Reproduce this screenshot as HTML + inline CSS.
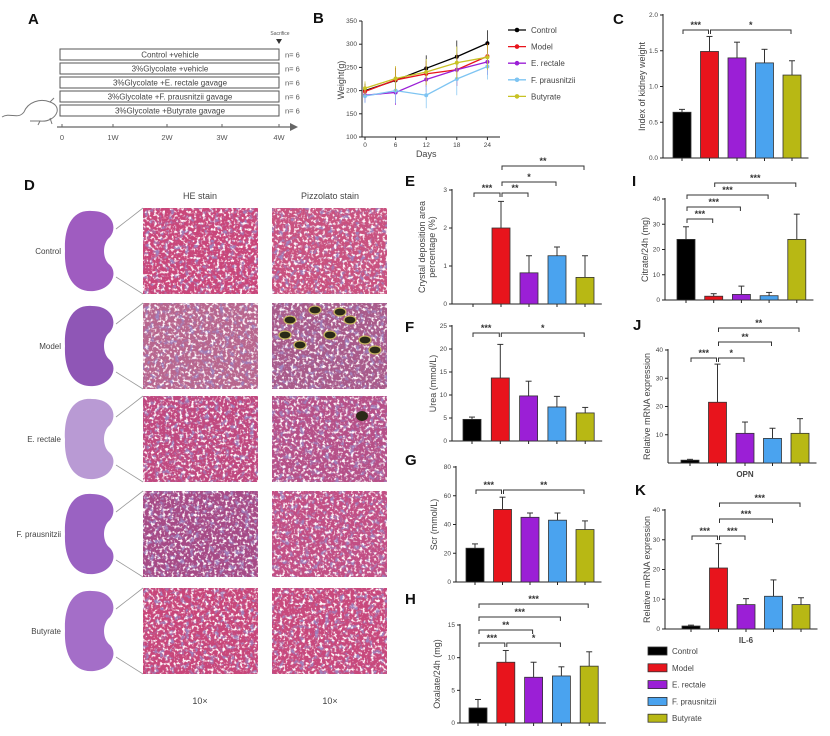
<!DOCTYPE html>
<html><head><meta charset="utf-8">
<style>
body{margin:0;background:#fff;}
svg{display:block;font-family:"Liberation Sans",sans-serif;}
.lbl{font-weight:bold;font-size:15px;fill:#111}
.tk{font-size:6.5px;fill:#444}
.ttl{font-size:9px;fill:#444}
</style></head><body>
<svg id="fig" width="830" height="736" viewBox="0 0 830 736">
<defs>
<filter id="spots" x="0" y="0" width="100%" height="100%">
<feTurbulence type="fractalNoise" baseFrequency="0.35" numOctaves="2" seed="3"/>
<feColorMatrix type="matrix" values="0 0 0 0 1  0 0 0 0 0.95  0 0 0 0 0.97  5 0 0 0 -2.6"/>
</filter>
<filter id="dark" x="0" y="0" width="100%" height="100%">
<feTurbulence type="fractalNoise" baseFrequency="0.2" numOctaves="2" seed="9"/>
<feColorMatrix type="matrix" values="0 0 0 0 0.35  0 0 0 0 0.22  0 0 0 0 0.5  5 0 0 0 -2.7"/>
</filter>
</defs>
<g id="panelA"></g>
<g id="panelB"></g>
<g id="panelD"></g>
<g id="bars"></g>
</svg>
<script>
// ---------- data ----------
const groups = ["Control","Model","E. rectale","F. prausnitzii","Butyrate"];
const groupColors = ["#000000","#e8141c","#9b1fd6","#4aa3ef","#b8b814"];
const weightDays = [0,6,12,18,24];
const weightTicks = [100,150,200,250,300,350];
const wControl = [200,222,248,273,302];
const wModel = [198,223,236,245,274];
const wRectale = [190,196,224,245,262];
const wPrausnitzii = [188,200,190,225,252];
const wButyrate = [205,226,240,260,272];
const wErr = [15,27,28,35,28];
const kidneyVals = [0.64,1.49,1.40,1.33,1.16];
const kidneyErr = [0.04,0.21,0.22,0.19,0.20];
const crystalVals = [0,2.0,0.82,1.27,0.7];
const crystalErr = [0,0.7,0.45,0.23,0.57];
const citrateVals = [24,1.5,2.2,1.7,24];
const citrateErr = [5,1,3.3,1.3,10];
const ureaVals = [4.7,13.7,9.8,7.4,6.1];
const ureaErr = [0.5,7.3,3.2,2.3,1.2];
const opnVals = [1,21.5,10.5,8.7,10.5];
const opnErr = [0.3,13.5,4,3.6,5.2];
const scrVals = [23.5,50.5,45,43,36.5];
const scrErr = [3,8.5,3,5,6];
const oxalateVals = [2.3,9.3,7,7.2,8.7];
const oxalateErr = [1.3,1.8,2.3,1.4,2.2];
const il6Vals = [1,20.5,8.2,11,8.2];
const il6Err = [0.3,8.2,2,5.5,2.3];

const NS="http://www.w3.org/2000/svg";
function el(tag,attrs,parent,text){const e=document.createElementNS(NS,tag);for(const k in attrs)e.setAttribute(k,attrs[k]);if(text!==undefined)e.textContent=text;parent.appendChild(e);return e;}

// ---------- Panel A ----------
const A=document.getElementById('panelA');
const aLbl=el('text',{x:28,y:24,class:'lbl'},A,'A');


const rows=["Control +vehicle","3%Glycolate +vehicle","3%Glycolate +E. rectale gavage","3%Glycolate +F. prausnitzii gavage","3%Glycolate +Butyrate gavage"];
const rowY=[49,63,77,91,105];
rows.forEach((r,i)=>{
 const b=el('rect',{x:60,y:rowY[i],width:219,height:11,fill:'#fff',stroke:'#555','stroke-width':1},A);
 
 
 el('text',{x:170,y:rowY[i]+8.5,'text-anchor':'middle','font-size':'8px',fill:'#444'},A,r);
 el('text',{x:285,y:rowY[i]+8.5,'font-size':'7.5px',fill:'#555'},A,'n= 6');
});
el('line',{x1:57,y1:127,x2:293,y2:127,stroke:'#666','stroke-width':1.2},A);
el('polygon',{points:'290,123 298,127 290,131',fill:'#666'},A);
[["0",62],["1W",113],["2W",167],["3W",222],["4W",279]].forEach(t=>{
 el('line',{x1:t[1],y1:124,x2:t[1],y2:127,stroke:'#666'},A);
 el('text',{x:t[1],y:140,'text-anchor':'middle','font-size':'7.5px',fill:'#555'},A,t[0]);
});
el('text',{x:280,y:35,'text-anchor':'middle','font-size':'5px',fill:'#555'},A,'Sacrifice');
el('polygon',{points:'276,39 282,39 279,44',fill:'#333'},A);
const mouse=el('path',{d:'M2,117 C10,112 18,120 24,112 C28,102 40,98 50,102 C56,104 58,108 57,112 C55,118 48,122 40,121 L30,121 M40,121 L38,125 M50,118 L52,124 M50,102 L54,98',fill:'none',stroke:'#777','stroke-width':1},A);



// ---------- Panel B ----------
const B=document.getElementById('panelB');
el('text',{x:313,y:23,class:'lbl'},B,'B');
const bx=d=>365+d*5.1, by=v=>137-(v-100)*0.464;
el('line',{x1:362,y1:by(350),x2:362,y2:by(100),stroke:'#222'},B);
el('line',{x1:362,y1:by(100),x2:500,y2:by(100),stroke:'#222'},B);
weightTicks.forEach(t=>{el('line',{x1:359,y1:by(t),x2:362,y2:by(t),stroke:'#222'},B);el('text',{x:357,y:by(t)+2,'text-anchor':'end',class:'tk'},B,t);});
weightDays.forEach(d=>{el('line',{x1:bx(d),y1:by(100),x2:bx(d),y2:by(100)+3,stroke:'#222'},B);el('text',{x:bx(d),y:by(100)+10,'text-anchor':'middle',class:'tk'},B,d);});
el('text',{x:bx(12),y:157,'text-anchor':'middle',class:'ttl'},B,'Days');
el('text',{transform:'translate(344,80) rotate(-90)','text-anchor':'middle',class:'ttl'},B,'Weight(g)');
const wSeries=[wControl,wModel,wRectale,wPrausnitzii,wButyrate];
const wColors=["#000","#e8141c","#9b1fd6","#7ec4f2","#c8c224"];
wSeries.forEach((s,si)=>{
 const g=el('g',{},B);
 
 
 s.forEach((v,i)=>{el('line',{x1:bx(weightDays[i]),y1:by(v-wErr[i]),x2:bx(weightDays[i]),y2:by(v+wErr[i]),stroke:wColors[si],'stroke-width':0.7},g);});
 el('polyline',{points:s.map((v,i)=>bx(weightDays[i])+','+by(v)).join(' '),fill:'none',stroke:wColors[si],'stroke-width':1.3},g);
 s.forEach((v,i)=>{el('circle',{cx:bx(weightDays[i]),cy:by(v),r:2,fill:wColors[si]},g);});
});
groups.forEach((gname,i)=>{
 const y=30+i*16.6;
 const le=el('g',{},B);
 
 
 el('line',{x1:508,y1:y,x2:526,y2:y,stroke:wColors[i],'stroke-width':1.3},le);
 el('circle',{cx:517,cy:y,r:2.3,fill:wColors[i]},le);
 el('text',{x:531,y:y+3,'font-size':'8px',fill:'#444'},le,gname);
});

// ---------- Panel D ----------
const D=document.getElementById('panelD');
el('text',{x:24,y:190,class:'lbl'},D,'D');
el('text',{x:200,y:199,'text-anchor':'middle','font-size':'9px',fill:'#444'},D,'HE stain');
el('text',{x:330,y:199,'text-anchor':'middle','font-size':'9px',fill:'#444'},D,'Pizzolato stain');
const dRowY=[208,303,396,491,588];
const kidCol=["#9f5cc0","#8f56b6","#b99ad4","#9a62c2","#a46ec8"];
const heBase=["#c9467a","#b8668e","#c0487f","#a64a86","#c8467a"];
const pzBase=["#c9517f","#a85a8a","#b65088","#c24e84","#c8487c"];
groups.forEach((gname,i)=>{
 const y=dRowY[i], cy=y+43;
 const row=el('g',{},D);
 
 
 el('text',{x:61,y:cy+3,'text-anchor':'end','font-size':'8px',fill:'#444'},row,gname);
 el('path',{d:`M92,${cy-40} C70,${cy-42} 64,${cy-20} 65,${cy} C64,${cy+22} 72,${cy+42} 94,${cy+40} C112,${cy+38} 118,${cy+22} 110,${cy+14} C102,${cy+8} 102,${cy-8} 110,${cy-14} C118,${cy-24} 112,${cy-40} 92,${cy-40} Z`,fill:kidCol[i]},row);
 el('line',{x1:116,y1:cy-22,x2:143,y2:y,stroke:'#999','stroke-width':0.8},row);
 el('line',{x1:116,y1:cy+26,x2:143,y2:y+86,stroke:'#999','stroke-width':0.8},row);
 const he=el('rect',{x:143,y:y,width:115,height:86,fill:heBase[i]},row);
 
 
 el('rect',{x:143,y:y,width:115,height:86,filter:'url(#dark)'},row);
 el('rect',{x:143,y:y,width:115,height:86,filter:'url(#spots)'},row);
 const pz=el('rect',{x:272,y:y,width:115,height:86,fill:pzBase[i]},row);
 
 
 el('rect',{x:272,y:y,width:115,height:86,filter:'url(#dark)'},row);
 el('rect',{x:272,y:y,width:115,height:86,filter:'url(#spots)'},row);
});
// crystal deposits
[[290,320],[315,310],[330,335],[300,345],[350,320],[365,340],[340,312],[285,335],[375,350]].forEach(p=>el('ellipse',{cx:p[0],cy:p[1],rx:6,ry:4,fill:'#2b2a18',stroke:'#c9b860','stroke-width':1.2},D));
el('ellipse',{cx:362,cy:416,rx:6,ry:5,fill:'#2b2a18'},D);
el('text',{x:200,y:704,'text-anchor':'middle','font-size':'9px',fill:'#444'},D,'10×');
el('text',{x:330,y:704,'text-anchor':'middle','font-size':'9px',fill:'#444'},D,'10×');

// ---------- Bar panels ----------
const BP=document.getElementById('bars');
function barChart(cfg){
 const g=el('g',{},BP);
 
 
 const y=v=>cfg.y0-(v/cfg.ymax)*(cfg.y0-cfg.ytop);
 const x=i=>cfg.first+i*cfg.step;
 el('text',{x:cfg.lx,y:cfg.ly,class:'lbl'},g,cfg.label);
 el('line',{x1:cfg.ax,y1:cfg.ytop-1,x2:cfg.ax,y2:cfg.y0,stroke:'#222'},g);
 el('line',{x1:cfg.ax,y1:cfg.y0,x2:x(4)+cfg.step*0.6,y2:cfg.y0,stroke:'#222'},g);
 cfg.ticks.forEach(t=>{el('line',{x1:cfg.ax-3,y1:y(t),x2:cfg.ax,y2:y(t),stroke:'#222'},g);el('text',{x:cfg.ax-5,y:y(t)+2,'text-anchor':'end',class:'tk'},g,cfg.fmt?t.toFixed(1):t);});
 cfg.vals.forEach((v,i)=>{
  el('line',{x1:x(i),y1:cfg.y0,x2:x(i),y2:cfg.y0+3,stroke:'#222'},g);
  if(cfg.errs[i]>0){el('line',{x1:x(i),y1:y(v),x2:x(i),y2:y(v+cfg.errs[i]),stroke:'#333'},g);el('line',{x1:x(i)-3,y1:y(v+cfg.errs[i]),x2:x(i)+3,y2:y(v+cfg.errs[i]),stroke:'#333'},g);}
  const r=el('rect',{x:x(i)-9,y:y(v),width:18,height:Math.max(0,cfg.y0-y(v)),fill:groupColors[i],stroke:'#333','stroke-width':0.8},g);
  
  
 });
 cfg.title.forEach((t,k)=>el('text',{transform:`translate(${cfg.tx+k*10},${(cfg.y0+cfg.ytop)/2}) rotate(-90)`,'text-anchor':'middle',class:'ttl'},g,t));
 cfg.sig.forEach(s=>{
  const x1=x(s[0])+1,x2=x(s[1])-1,yy=s[2];
  el('path',{d:`M${x1},${yy+4} V${yy} H${x2} V${yy+4}`,fill:'none',stroke:'#333','stroke-width':1},g);
  el('text',{x:(x1+x2)/2,y:yy-2,'text-anchor':'middle','font-size':'9px','font-weight':'bold',fill:'#333'},g,s[3]);
 });
 if(cfg.xl)el('text',{x:x(2),y:cfg.y0+14,'text-anchor':'middle','font-size':'8px','font-weight':'bold',fill:'#444'},g,cfg.xl);
}
barChart({name:'panel-c-kidney-index',label:'C',lx:613,ly:24,ax:663,ytop:15,y0:158,ymax:2,first:682,step:27.5,vals:kidneyVals,errs:kidneyErr,ticks:[0,0.5,1,1.5,2],fmt:true,title:['Index of kidney weight'],tx:645,sig:[[0,1,30,'***'],[1,4,30,'*']]});
barChart({name:'panel-e-crystal',label:'E',lx:405,ly:186,ax:452,ytop:190,y0:304,ymax:3,first:473,step:28,vals:crystalVals,errs:crystalErr,ticks:[0,1,2,3],title:['Crystal deposition area','percentage (%)'],tx:425,sig:[[0,1,193,'***'],[1,2,193,'**'],[1,3,182,'*'],[1,4,166,'**']]});
barChart({name:'panel-i-citrate',label:'I',lx:632,ly:186,ax:665,ytop:199,y0:300,ymax:40,first:686,step:27.7,vals:citrateVals,errs:citrateErr,ticks:[0,10,20,30,40],title:['Citrate/24h (mg)'],tx:648,sig:[[0,1,219,'***'],[0,2,207,'***'],[0,3,195,'***'],[1,4,183,'***']]});
barChart({name:'panel-f-urea',label:'F',lx:405,ly:332,ax:452,ytop:326,y0:441,ymax:25,first:472,step:28.3,vals:ureaVals,errs:ureaErr,ticks:[0,5,10,15,20,25],title:['Urea (mmol/L)'],tx:436,sig:[[0,1,333,'***'],[1,4,333,'*']]});
barChart({name:'panel-j-opn',label:'J',lx:633,ly:330,ax:668,ytop:350,y0:463,ymax:40,first:690,step:27.5,vals:opnVals,errs:opnErr,ticks:[10,20,30,40],title:['Relative mRNA expression'],tx:650,sig:[[0,1,358,'***'],[1,2,358,'*'],[1,3,342,'**'],[1,4,328,'**']],xl:'OPN'});
barChart({name:'panel-g-scr',label:'G',lx:405,ly:465,ax:456,ytop:467,y0:582,ymax:80,first:475,step:27.5,vals:scrVals,errs:scrErr,ticks:[0,20,40,60,80],title:['Scr (mmol/L)'],tx:437,sig:[[0,1,490,'***'],[1,4,490,'**']]});
barChart({name:'panel-h-oxalate',label:'H',lx:405,ly:604,ax:460,ytop:625,y0:723,ymax:15,first:478,step:27.8,vals:oxalateVals,errs:oxalateErr,ticks:[0,5,10,15],title:['Oxalate/24h (mg)'],tx:440,sig:[[0,4,604,'***'],[0,3,617,'***'],[0,2,630,'**'],[0,1,643,'***'],[1,3,643,'*']]});
barChart({name:'panel-k-il6',label:'K',lx:635,ly:495,ax:665,ytop:510,y0:629,ymax:40,first:691,step:27.5,vals:il6Vals,errs:il6Err,ticks:[0,10,20,30,40],title:['Relative mRNA expression'],tx:650,sig:[[0,1,536,'***'],[1,2,536,'***'],[1,3,519,'***'],[1,4,503,'***']],xl:'IL-6'});
// bar legend
groups.forEach((gname,i)=>{
 const y=651+i*16.8;
 const le=el('g',{},BP);
 
 
 el('rect',{x:648,y:y-4,width:19,height:8,fill:groupColors[i],stroke:'#333','stroke-width':0.8},le);
 el('text',{x:672,y:y+3,'font-size':'8px',fill:'#444'},le,gname);
});
</script>
</body></html>
